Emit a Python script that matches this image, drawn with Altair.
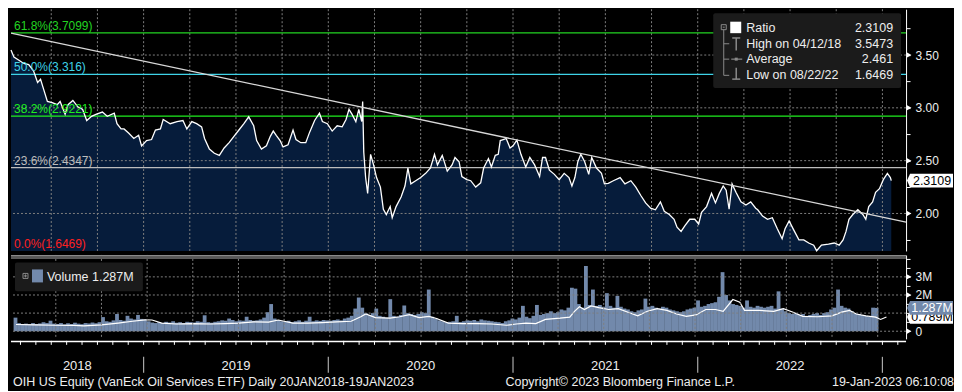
import altair as alt
import pandas as pd

FONT = "Liberation Sans"

# ---------------- data ----------------
# OIH ratio, x in decimal years
price_t = [
    2018.282, 2018.298, 2018.325, 2018.351, 2018.378, 2018.404, 2018.426, 2018.442, 2018.458, 2018.479,
    2018.505, 2018.532, 2018.548, 2018.575, 2018.591, 2018.617, 2018.644, 2018.670, 2018.692, 2018.718,
    2018.745, 2018.777, 2018.803, 2018.841, 2018.856, 2018.878, 2018.894, 2018.920, 2018.947, 2018.973,
    2018.989, 2019.016, 2019.043, 2019.064, 2019.091, 2019.106, 2019.144, 2019.181, 2019.213, 2019.234,
    2019.261, 2019.287, 2019.314, 2019.330, 2019.356, 2019.383, 2019.410, 2019.436, 2019.463, 2019.489,
    2019.516, 2019.543, 2019.569, 2019.596, 2019.612, 2019.638, 2019.665, 2019.686, 2019.702, 2019.718,
    2019.739, 2019.755, 2019.782, 2019.809, 2019.825, 2019.851, 2019.878, 2019.899, 2019.926, 2019.952,
    2019.968, 2019.995, 2020.021, 2020.048, 2020.075, 2020.096, 2020.112, 2020.128, 2020.149, 2020.165,
    2020.181, 2020.186, 2020.192, 2020.202, 2020.213, 2020.229, 2020.245, 2020.261, 2020.282, 2020.298,
    2020.314, 2020.335, 2020.346, 2020.367, 2020.394, 2020.415, 2020.431, 2020.447, 2020.473, 2020.500,
    2020.527, 2020.553, 2020.575, 2020.591, 2020.617, 2020.644, 2020.670, 2020.686, 2020.708, 2020.723,
    2020.750, 2020.771, 2020.798, 2020.825, 2020.841, 2020.867, 2020.883, 2020.904, 2020.920, 2020.931,
    2020.947, 2020.963, 2020.984, 2021.000, 2021.021, 2021.043, 2021.069, 2021.091, 2021.117, 2021.144,
    2021.160, 2021.176, 2021.197, 2021.224, 2021.250, 2021.277, 2021.303, 2021.319, 2021.335, 2021.351,
    2021.367, 2021.388, 2021.410, 2021.426, 2021.452, 2021.479, 2021.495, 2021.516, 2021.543, 2021.580,
    2021.606, 2021.638, 2021.665, 2021.692, 2021.718, 2021.745, 2021.771, 2021.798, 2021.819, 2021.846,
    2021.872, 2021.888, 2021.910, 2021.931, 2021.957, 2021.984, 2022.005, 2022.021, 2022.048, 2022.075,
    2022.096, 2022.117, 2022.138, 2022.154, 2022.170, 2022.186, 2022.207, 2022.234, 2022.261, 2022.287,
    2022.314, 2022.325, 2022.351, 2022.378, 2022.404, 2022.431, 2022.457, 2022.473, 2022.495, 2022.521,
    2022.548, 2022.574, 2022.601, 2022.628, 2022.644, 2022.670, 2022.708, 2022.739, 2022.766, 2022.787,
    2022.803, 2022.819, 2022.840, 2022.867, 2022.894, 2022.910, 2022.926, 2022.947, 2022.963, 2022.984,
    2023.005, 2023.027, 2023.043, 2023.048,
]
price_v = [
    3.547, 3.48, 3.45, 3.42, 3.41, 3.35, 3.24, 3.27, 3.18, 3.06,
    3.05, 3.03, 3.06, 2.94, 3.03, 3.07, 3.01, 2.985, 2.88, 2.92,
    2.94, 2.96, 2.92, 2.95, 2.85, 2.80, 2.80, 2.76, 2.71, 2.74,
    2.64, 2.69, 2.70, 2.79, 2.80, 2.89, 2.85, 2.87, 2.88, 2.80,
    2.87, 2.85, 2.82, 2.71, 2.61, 2.57, 2.55, 2.62, 2.67, 2.73,
    2.79, 2.85, 2.915, 2.83, 2.69, 2.61, 2.64, 2.73, 2.78, 2.74,
    2.69, 2.63, 2.65, 2.79, 2.70, 2.67, 2.67, 2.77, 2.88, 2.95,
    2.87, 2.85, 2.78, 2.83, 2.82, 2.89, 2.985, 2.94, 2.87, 2.985,
    2.87, 3.06, 2.58, 2.34, 2.19, 2.56, 2.46, 2.34, 2.25, 2.04,
    1.99, 2.065, 1.96, 2.065, 2.155, 2.26, 2.43, 2.28, 2.31, 2.34,
    2.38, 2.43, 2.56, 2.46, 2.55, 2.40, 2.46, 2.53, 2.49, 2.35,
    2.32, 2.31, 2.25, 2.29, 2.43, 2.52, 2.44, 2.55, 2.56, 2.69,
    2.70, 2.71, 2.62, 2.64, 2.695, 2.56, 2.44, 2.53, 2.46, 2.35,
    2.53, 2.53, 2.41, 2.37, 2.32, 2.38, 2.34, 2.26, 2.34, 2.49,
    2.56, 2.49, 2.37, 2.53, 2.43, 2.38, 2.28, 2.285, 2.31, 2.34,
    2.28, 2.31, 2.25, 2.17, 2.10, 2.05, 2.035, 2.11, 2.02, 1.99,
    1.945, 1.87, 1.83, 1.885, 1.945, 1.945, 1.90, 2.01, 2.065, 2.19,
    2.10, 2.19, 2.26, 2.22, 2.04, 2.28, 2.20, 2.11, 2.08, 2.11,
    2.05, 2.035, 1.975, 1.945, 1.96, 1.855, 1.76, 1.855, 1.93, 1.84,
    1.75, 1.75, 1.72, 1.70, 1.6469, 1.70, 1.71, 1.72, 1.70, 1.75,
    1.83, 1.945, 1.99, 2.035, 1.99, 1.945, 2.065, 2.11, 2.20, 2.235,
    2.32, 2.38, 2.34, 2.3109,
]

# weekly volume (millions), first week starting 13 Apr 2018
vol_first_week = "2018-04-13"
vol_values = [
    0.75, 0.45, 0.40, 0.42, 0.38, 0.45, 0.40, 0.43, 0.50, 0.45, 0.58,
    0.42, 0.40, 0.45, 0.38, 0.44, 0.40, 0.47, 0.42, 0.39, 0.45, 0.43, 0.48, 0.44,
    0.50, 0.78, 0.55, 0.52, 0.60, 0.95, 0.62, 0.58, 0.85, 0.70, 0.65, 0.90, 0.68,
    0.65, 0.55, 0.48, 0.45, 0.50, 0.46, 0.52, 0.48, 0.55, 0.47, 0.50, 0.45, 0.52,
    0.50, 0.48, 0.55, 0.52, 0.88, 0.50, 0.47, 0.52, 0.55, 0.60, 0.58, 0.70, 0.62,
    0.55, 0.60, 0.58, 0.80, 0.62, 0.58, 0.60, 0.65, 0.75, 1.05, 1.50, 0.70, 0.62,
    0.55, 0.52, 0.58, 0.50, 0.55, 0.60, 0.52, 0.58, 0.80, 0.55, 0.60, 0.57, 0.62,
    0.60, 0.58, 0.62, 0.65, 0.60, 0.70, 0.75, 0.85, 1.25, 1.86, 1.30, 1.00, 0.90,
    1.00, 1.25, 0.85, 0.80, 0.75, 1.77, 0.85, 0.80, 0.90, 1.42, 1.00, 0.95, 0.90,
    0.95, 1.05, 1.00, 2.30, 0.80, 0.70, 0.60, 0.55, 0.50, 0.52, 0.55, 0.85, 0.50,
    0.55, 0.60, 0.58, 0.62, 0.55, 0.65, 0.60, 0.58, 0.55, 0.52, 0.50, 0.45, 0.55,
    0.60, 0.70, 0.65, 0.75, 1.40, 0.80, 0.72, 0.85, 1.45, 0.90, 0.95, 1.00, 1.10,
    1.00, 1.05, 1.20, 1.15, 1.30, 2.40, 2.35, 1.50, 1.30, 3.60, 1.45, 2.30, 1.40,
    1.45, 1.35, 2.10, 1.40, 1.30, 1.95, 1.35, 1.25, 1.20, 1.10, 1.05, 1.15, 1.20,
    1.80, 1.35, 1.40, 1.30, 1.25, 1.35, 1.30, 1.20, 1.15, 1.10, 1.05, 1.10, 1.20,
    1.25, 1.30, 1.70, 1.35, 1.40, 1.50, 1.55, 1.60, 1.90, 3.26, 2.00, 1.70, 1.50,
    1.45, 1.40, 1.30, 1.70, 1.35, 1.30, 1.40, 1.35, 1.30, 1.35, 1.40, 1.25, 2.20,
    1.25, 1.10, 1.00, 0.95, 1.00, 0.90, 0.95, 0.85, 0.90, 0.95, 1.00, 0.90, 1.00,
    1.05, 1.20, 1.30, 2.30, 1.40, 1.30, 1.25, 1.10, 1.00, 0.95, 0.90, 0.85, 0.80,
    1.30, 1.287,
]

# volume moving average (millions)
ma_t = [
    2018.282, 2018.388, 2018.500, 2018.601, 2018.654, 2018.750, 2018.841, 2018.920, 2018.989, 2019.027,
    2019.080, 2019.160, 2019.250, 2019.346, 2019.426, 2019.500, 2019.585, 2019.665, 2019.718, 2019.798,
    2019.878, 2019.958, 2020.037, 2020.117, 2020.170, 2020.197, 2020.250, 2020.330, 2020.383, 2020.436,
    2020.489, 2020.543, 2020.585, 2020.649, 2020.729, 2020.809, 2020.888, 2020.968, 2021.021, 2021.074,
    2021.128, 2021.181, 2021.261, 2021.314, 2021.340, 2021.367, 2021.394, 2021.431, 2021.473, 2021.527,
    2021.580, 2021.633, 2021.686, 2021.739, 2021.793, 2021.846, 2021.899, 2021.952, 2022.005, 2022.059,
    2022.112, 2022.154, 2022.207, 2022.245, 2022.271, 2022.351, 2022.431, 2022.484, 2022.537, 2022.590,
    2022.670, 2022.750, 2022.803, 2022.846, 2022.883, 2022.936, 2022.989, 2023.016, 2023.048,
]
ma_v = [
    0.37, 0.35, 0.33, 0.32, 0.30, 0.35, 0.45, 0.55, 0.63, 0.62,
    0.45, 0.40, 0.42, 0.40, 0.42, 0.45, 0.52, 0.50, 0.62, 0.45,
    0.45, 0.48, 0.52, 0.55, 0.80, 0.95, 0.75, 0.72, 0.80, 0.92,
    0.75, 0.82, 0.70, 0.45, 0.42, 0.42, 0.40, 0.33, 0.40, 0.45,
    0.42, 0.65, 0.72, 0.78, 1.10, 1.35, 1.20, 1.40, 1.30, 1.20,
    1.25, 1.05, 0.85, 1.10, 1.25, 1.15, 0.95, 0.82, 0.90, 1.20,
    1.20, 1.10, 1.75, 1.60, 1.15, 1.15, 1.10, 1.25, 1.05, 0.82,
    0.80, 0.85, 1.05, 1.15, 0.95, 0.85, 0.78, 0.65, 0.789,
]

fib_names = ["61.8%(3.7099)", "50.0%(3.316)", "38.2%(2.9221)", "23.6%(2.4347)", "0.0%(1.6469)"]
fib_levels = [3.7099, 3.316, 2.9221, 2.4347, 1.6469]
fib_colors = ["#22d422", "#3fd3e8", "#1fee1f", "#bdbdbd", "#ff2020"]

trend_t = [2018.282, 2023.128]
trend_v = [3.708, 1.918]

quarter_lines = [2018.5, 2018.75, 2019.0, 2019.25, 2019.5, 2019.75, 2020.0, 2020.25, 2020.5, 2020.75,
                 2021.0, 2021.25, 2021.5, 2021.75, 2022.0, 2022.25, 2022.5, 2022.75, 2023.0]
price_ticks = [1.75, 2.0, 2.25, 2.5, 2.75, 3.0, 3.25, 3.5, 3.75]
price_major = [2.0, 2.5, 3.0, 3.5]
vol_ticks = [0, 0.5, 1.0, 1.5, 2.0, 2.5, 3.0, 3.5, 4.0]
vol_grid = [0, 1, 2, 3]
vol_major_marks = [0, 2, 3]
year_bounds = [2019, 2020, 2021, 2022, 2023]
year_labels = ["2018", "2019", "2020", "2021", "2022"]
year_label_pos = [2018.641, 2019.5, 2020.5, 2021.5, 2022.5]

last_ratio = 2.3109
high_text, high_val = "High on 04/12/18", "3.5473"
avg_val = "2.461"
low_text, low_val = "Low on 08/22/22", "1.6469"
last_vol = 1.287
last_vol_ma = 0.789

# ---------------- layout ----------------
W, H1, H2, H3 = 896, 242, 84, 50
X_DOMAIN = [2018.282, 2023.128]
GRID = "#7e7e7e"
NAVY = "#061c3b"
VOLC = "#7289ab"
TXT = "#eeeeee"
LEG_BG = "#1b1b1b"
ICON = "#8a8a8a"
TAG = "M-1,0L-0.87,-0.3L1,-0.3L1,0.3L-0.87,0.3Z"

xs = alt.Scale(domain=X_DOMAIN, nice=False, zero=False)
X = alt.X("t:Q", scale=xs, axis=None)

one = pd.DataFrame({"a": [0]})


def box(x1, x2, y1, y2, **kw):
    return alt.Chart(one).mark_rect(**kw).encode(
        x=alt.value(x1), x2=alt.value(x2), y=alt.value(y1), y2=alt.value(y2))


def seg(x1, x2, y1, y2, color=ICON, width=1):
    return alt.Chart(one).mark_rule(color=color, strokeWidth=width).encode(
        x=alt.value(x1), x2=alt.value(x2), y=alt.value(y1), y2=alt.value(y2))


def label(txt, x, y, size=12.5, color=TXT, align="left"):
    return alt.Chart(one).mark_text(text=txt, font=FONT, fontSize=size, color=color,
                                    align=align, baseline="middle").encode(
        x=alt.value(x), y=alt.value(y))


# ---------- upper panel ----------
ys = alt.Scale(domain=[1.645, 3.934], nice=False, zero=False)
yaxis = alt.Axis(orient="right", values=price_ticks, title=None, grid=False,
                 labelExpr="datum.value % 0.5 == 0 ? format(datum.value, '.2f') : ''",
                 domainColor="white", domainWidth=1, tickColor="white", tickSize=4,
                 labelColor=TXT, labelFont=FONT, labelFontSize=12, labelPadding=5)
Y = alt.Y("v:Q", scale=ys, axis=yaxis)

price_df = pd.DataFrame({"t": price_t, "v": price_v})
fib_df = pd.DataFrame({"v": fib_levels, "name": fib_names, "c": fib_colors})
trend_df = pd.DataFrame({"t": trend_t, "v": trend_v})

area = alt.Chart(price_df).mark_area(color=NAVY).encode(x=X, y=Y, y2=alt.datum(1.645))
vgrid = alt.Chart(pd.DataFrame({"t": quarter_lines})).mark_rule(
    color=GRID, strokeDash=[2, 2], strokeWidth=1).encode(x=X)
hgrid = alt.Chart(pd.DataFrame({"v": price_major})).mark_rule(
    color=GRID, strokeDash=[2, 2], strokeWidth=1).encode(y=Y)
fib_rules = alt.Chart(fib_df.iloc[:4]).mark_rule(strokeWidth=1.3).encode(
    y=Y, color=alt.Color("c:N", scale=None))
pline = alt.Chart(price_df).mark_line(color="white", strokeWidth=1.3).encode(x=X, y=Y)
trend = alt.Chart(trend_df).mark_line(color="#d8d8d8", strokeWidth=1.3, clip=True).encode(x=X, y=Y)
fib_text = alt.Chart(fib_df).mark_text(align="left", dy=-7, font=FONT, fontSize=12).encode(
    x=alt.value(3), y=Y, text="name:N", color=alt.Color("c:N", scale=None))
ticks_major = alt.Chart(pd.DataFrame({"v": price_major})).mark_point(
    shape="triangle-right", filled=True, color="white", size=30, opacity=1).encode(
    x=alt.value(W + 3), y=Y)
last_df = pd.DataFrame({"v": [last_ratio], "lab": ["2.3109"]})
last_tag = alt.Chart(last_df).mark_point(shape=TAG, filled=True, color="white", size=2116,
                                         opacity=1, strokeWidth=0).encode(x=alt.value(W + 24), y=Y)
last_txt = alt.Chart(last_df).mark_text(font=FONT, fontSize=12.5, color="black").encode(
    x=alt.value(W + 26), y=Y, text="lab:N")

legend_layers = [
    box(703, 891, 4, 79, color=LEG_BG, cornerRadius=2),
    box(711, 716, 15.5, 20.5, fill=None, stroke=ICON, strokeWidth=1),
    seg(712.5, 714.5, 18, 18),
    seg(713.5, 713.5, 20.5, 66.2),
    seg(713.5, 719, 34.6, 34.6),
    seg(713.5, 719, 50, 50),
    seg(713.5, 719, 66.2, 66.2),
    box(720, 731, 12.5, 24, color="white"),
    seg(726, 726, 28.8, 41.3, width=1.5),
    seg(722, 730, 28.8, 28.8, width=1.5),
    seg(721, 732, 50, 50, width=1.2),
    box(724.5, 727.5, 48.5, 51.5, color=ICON),
    seg(726, 726, 58.6, 70, width=1.5),
    seg(722, 730, 70, 70, width=1.5),
    label("Ratio", 736, 19.2),
    label("2.3109", 883, 19.2, align="right"),
    label(high_text, 736, 34.6),
    label(high_val, 883, 34.6, align="right"),
    label("Average", 736, 50.2),
    label(avg_val, 883, 50.2, align="right"),
    label(low_text, 736, 65.8),
    label(low_val, 883, 65.8, align="right"),
]

top = alt.layer(area, vgrid, hgrid, fib_rules, pline, trend, fib_text, ticks_major,
                last_tag, last_txt, *legend_layers).properties(width=W, height=H1)

# ---------- volume panel ----------
vs = alt.Scale(domain=[-0.421, 4.21], nice=False, zero=False)
vaxis = alt.Axis(orient="right", values=vol_ticks, title=None, grid=False,
                 labelExpr="datum.value == 0 ? '0' : ((datum.value == 2 || datum.value == 3) ? datum.value + 'M' : '')",
                 domainColor="white", domainWidth=1, tickColor="white", tickSize=4,
                 labelColor=TXT, labelFont=FONT, labelFontSize=12, labelPadding=5)
VY = alt.Y("vol:Q", scale=vs, axis=vaxis)

weeks = pd.date_range(vol_first_week, periods=len(vol_values), freq="7D")
vol_df = pd.DataFrame({
    "t": weeks.year + (weeks.dayofyear - 1) / 365.25,
    "vol": vol_values,
})
ma_df = pd.DataFrame({"t": ma_t, "vol": ma_v})

v_vgrid = alt.Chart(pd.DataFrame({"t": quarter_lines})).mark_rule(
    color=GRID, strokeDash=[2, 2], strokeWidth=1).encode(x=X)
v_hgrid = alt.Chart(pd.DataFrame({"vol": vol_grid})).mark_rule(
    color=GRID, strokeDash=[2, 2], strokeWidth=1).encode(y=VY)
bars = alt.Chart(vol_df).mark_bar(color=VOLC, size=3.8).encode(x=X, y=VY, y2=alt.datum(0))
ma_line = alt.Chart(ma_df).mark_line(color="white", strokeWidth=1.2).encode(x=X, y=VY)
v_ticks = alt.Chart(pd.DataFrame({"vol": vol_major_marks})).mark_point(
    shape="triangle-right", filled=True, color="white", size=30, opacity=1).encode(
    x=alt.value(W + 3), y=VY)
ma_tag_df = pd.DataFrame({"vol": [last_vol_ma], "lab": ["0.789M"]})
vol_tag_df = pd.DataFrame({"vol": [last_vol], "lab": ["1.287M"]})
ma_tag = alt.Chart(ma_tag_df).mark_point(shape=TAG, filled=True, color="white", size=2116,
                                         opacity=1, strokeWidth=0).encode(x=alt.value(W + 24), y=VY)
ma_txt = alt.Chart(ma_tag_df).mark_text(font=FONT, fontSize=12.5, color="black").encode(
    x=alt.value(W + 26), y=VY, text="lab:N")
vol_tag = alt.Chart(vol_tag_df).mark_point(shape=TAG, filled=True, color=VOLC, size=2116,
                                           opacity=1, strokeWidth=0).encode(x=alt.value(W + 24), y=VY)
vol_txt = alt.Chart(vol_tag_df).mark_text(font=FONT, fontSize=12.5, color="white").encode(
    x=alt.value(W + 26), y=VY, text="lab:N")

sep_layers = [
    box(0, W, 0, 3.8, color="#4a4a4a"),
    seg(0, W, 0.6, 0.6, color="#8a8a8a", width=1.2),
    seg(0, W, 3.2, 3.2, color="#6e6e6e", width=1),
]
vleg_layers = [
    box(4, 132, 7.6, 36.3, color=LEG_BG, cornerRadius=2),
    box(12, 17, 18.5, 23.5, fill=None, stroke=ICON, strokeWidth=1),
    seg(13, 16, 21, 21),
    seg(14.5, 14.5, 19.5, 22.5),
    box(21, 32, 14.5, 27.5, color=VOLC),
    label("Volume  1.287M", 36, 22.5),
]

vol_chart = alt.layer(bars, ma_line, v_vgrid, v_hgrid, *sep_layers, *vleg_layers,
                      v_ticks, ma_tag, ma_txt, vol_tag, vol_txt).properties(width=W, height=H2)

# ---------- time axis + footer ----------
months = pd.date_range("2018-05-01", "2023-02-01", freq="MS")
month_df = pd.DataFrame({"t": months.year + (months.month - 1) / 12})
axis_line = seg(0, W, 0.75, 0.75, color="white", width=1.5)
mticks = alt.Chart(month_df).mark_rule(color="white", strokeWidth=1).encode(
    x=X, y=alt.value(0), y2=alt.value(4))
ysep = alt.Chart(pd.DataFrame({"t": year_bounds})).mark_rule(color="#a8a8a8", strokeWidth=1.2).encode(
    x=X, y=alt.value(16), y2=alt.value(32))
ylab = alt.Chart(pd.DataFrame({"t": year_label_pos, "lab": year_labels})).mark_text(
    font=FONT, fontSize=13, color=TXT, baseline="middle").encode(x=X, y=alt.value(25), text="lab:N")
foot = [
    label("OIH US Equity (VanEck Oil Services ETF)  Daily 20JAN2018-19JAN2023", 2, 41.5, size=12.5),
    label("Copyright\u00a9 2023 Bloomberg Finance L.P.", 495, 41.5, size=12.5),
    label("19-Jan-2023 06:10:08", 944, 41.5, size=12.5, align="right"),
]
bottom = alt.layer(axis_line, mticks, ysep, ylab, *foot).properties(width=W, height=H3)

chart = alt.vconcat(top, vol_chart, bottom, spacing=0).properties(
    background="black", padding=0
).configure_view(stroke=None)

chart.save("out.html", embed_options={"renderer": "svg", "actions": False})
